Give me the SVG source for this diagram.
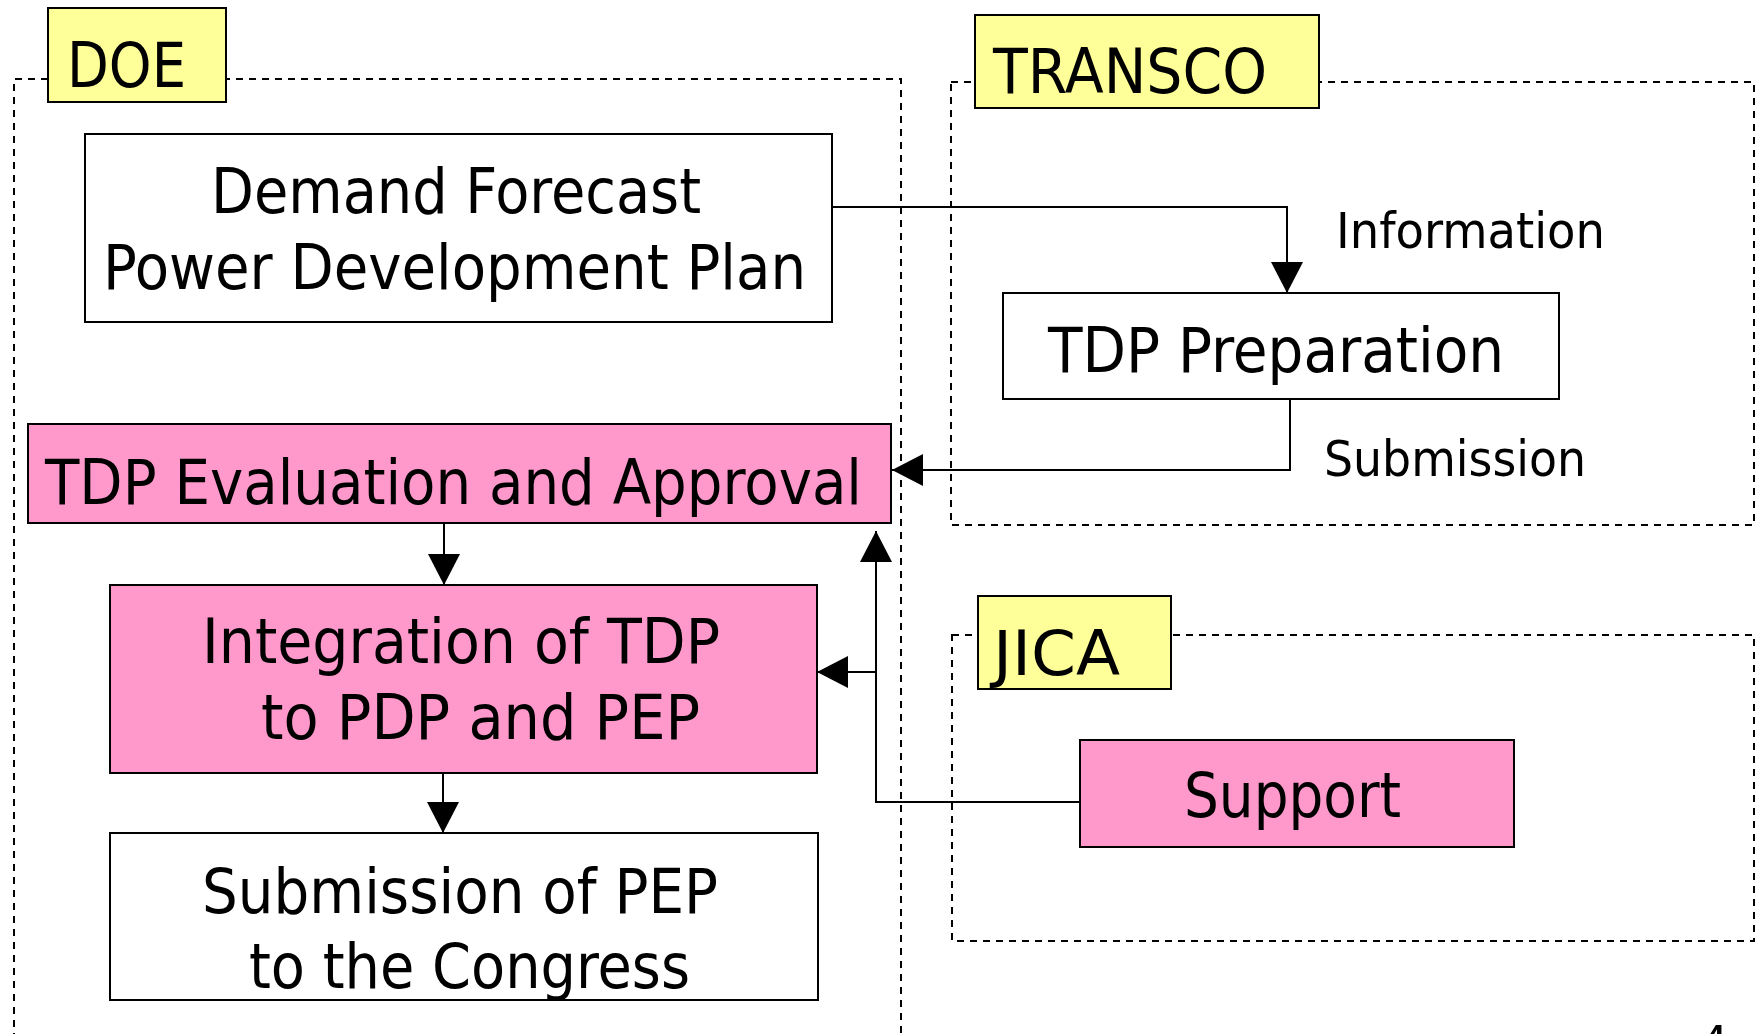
<svg xmlns="http://www.w3.org/2000/svg" width="1756" height="1034" viewBox="0 0 1756 1034">
<style>
.bg{fill:#ffffff}
.grp{fill:none;stroke:#000;stroke-width:2;stroke-dasharray:7 6}
.lbl{fill:#ffff99;stroke:#000;stroke-width:2}
.box{fill:#ffffff;stroke:#000;stroke-width:2}
.pink{fill:#ff99cc;stroke:#000;stroke-width:2}
.t{font-family:"DejaVu Sans Condensed","DejaVu Sans",sans-serif;font-stretch:condensed;fill:#000}
.big{font-size:62px}
.sm{font-size:50px}
.c{fill:none;stroke:#000;stroke-width:2}
</style>
<defs>
<marker id="ah" markerUnits="userSpaceOnUse" markerWidth="31" markerHeight="32" refX="31" refY="16" orient="auto" viewBox="0 0 31 32">
<path d="M0,0 L31,16 L0,32 z" fill="#000"/>
</marker>
</defs>
<rect class="bg" x="0" y="0" width="1756" height="1034"/>

<g id="group-doe">
<path class="grp" d="M14,1040 V79 H901 V1040"/>
<rect class="lbl" x="48" y="8" width="178" height="94"/>
<text class="t big" x="67" y="87" textLength="119" lengthAdjust="spacingAndGlyphs">DOE</text>
</g>
<g id="group-transco">
<rect class="grp" x="951" y="82" width="803" height="443"/>
<rect class="lbl" x="975" y="15" width="344" height="93"/>
<text class="t big" x="993" y="93" textLength="274" lengthAdjust="spacingAndGlyphs">TRANSCO</text>
</g>
<g id="group-jica">
<rect class="grp" x="952" y="635" width="802" height="306"/>
<rect class="lbl" x="978" y="596" width="193" height="93"/>
<text class="t big" x="993" y="675" textLength="127" lengthAdjust="spacingAndGlyphs">JICA</text>
</g>

<g id="connectors">
<path class="c" d="M832,207 H1287 V293" marker-end="url(#ah)"/>
<path class="c" d="M1290,399 V470 H892" marker-end="url(#ah)"/>
<path class="c" d="M444,523 V585" marker-end="url(#ah)"/>
<path class="c" d="M443,773 V833" marker-end="url(#ah)"/>
<path class="c" d="M1080,802 H876 V531" marker-end="url(#ah)"/>
<path class="c" d="M876,672 H817" marker-end="url(#ah)"/>
<text class="t sm" x="1336" y="248" textLength="269" lengthAdjust="spacingAndGlyphs">Information</text>
<text class="t sm" x="1324" y="476" textLength="262" lengthAdjust="spacingAndGlyphs">Submission</text>
</g>

<g id="node-demand">
<rect class="box" x="85" y="134" width="747" height="188"/>
<text class="t big" x="211" y="213" textLength="490" lengthAdjust="spacingAndGlyphs">Demand Forecast</text>
<text class="t big" x="103" y="289" textLength="703" lengthAdjust="spacingAndGlyphs">Power Development Plan</text>
</g>
<g id="node-tdp-prep">
<rect class="box" x="1003" y="293" width="556" height="106"/>
<text class="t big" x="1048" y="372" textLength="456" lengthAdjust="spacingAndGlyphs">TDP Preparation</text>
</g>
<g id="node-tdp-eval">
<rect class="pink" x="28" y="424" width="863" height="99"/>
<text class="t big" x="45" y="504" textLength="817" lengthAdjust="spacingAndGlyphs">TDP Evaluation and Approval</text>
</g>
<g id="node-integration">
<rect class="pink" x="110" y="585" width="707" height="188"/>
<text class="t big" x="202" y="663" textLength="518" lengthAdjust="spacingAndGlyphs">Integration of TDP</text>
<text class="t big" x="261" y="739" textLength="439" lengthAdjust="spacingAndGlyphs">to PDP and PEP</text>
</g>
<g id="node-submission">
<rect class="box" x="110" y="833" width="708" height="167"/>
<text class="t big" x="202" y="913" textLength="516" lengthAdjust="spacingAndGlyphs">Submission of PEP</text>
<text class="t big" x="249" y="988" textLength="441" lengthAdjust="spacingAndGlyphs">to the Congress</text>
</g>
<g id="node-support">
<rect class="pink" x="1080" y="740" width="434" height="107"/>
<text class="t big" x="1184" y="817" textLength="217" lengthAdjust="spacingAndGlyphs">Support</text>
</g>
<text class="t sm" x="1700" y="1061">4</text>
</svg>
